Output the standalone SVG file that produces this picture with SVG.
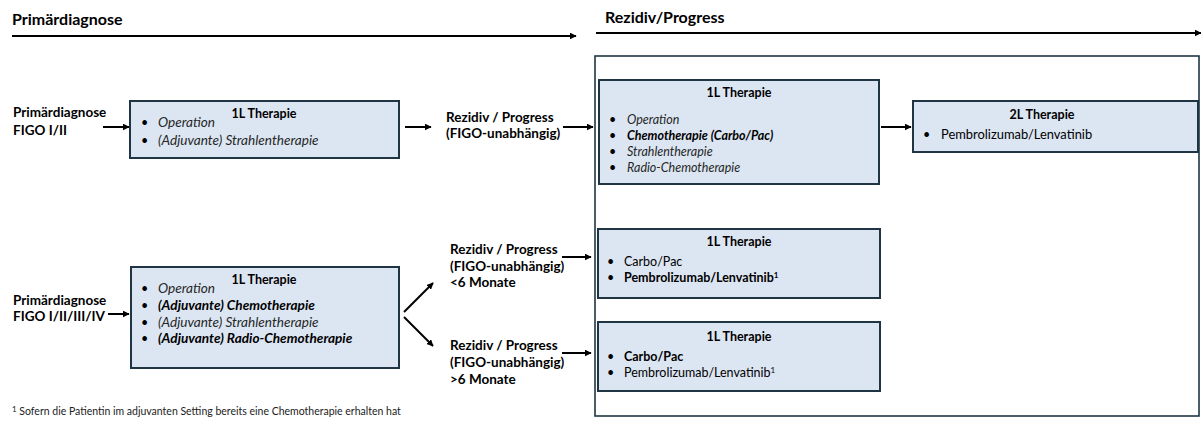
<svg xmlns="http://www.w3.org/2000/svg" width="1201" height="421" viewBox="0 0 1201 421">
<defs>
<marker id="ah" viewBox="0 0 10 10" refX="9" refY="5" markerWidth="7" markerHeight="7" orient="auto" markerUnits="userSpaceOnUse">
<path d="M0,0 L10,5 L0,10 z" fill="#000"/>
</marker>
<style>
text{font-family:Lato,"Open Sans","Liberation Sans",sans-serif;fill:#000}
.h{font-size:16px;font-weight:bold}
.lbl{font-size:13.5px;font-weight:bold}
.t{font-size:12.5px;font-weight:bold;text-anchor:middle}
.b{font-size:12.5px}
.L{font-size:13.6px}
.i{font-style:italic;fill:#262626}
.bi{font-style:italic;font-weight:bold}
.bd{font-weight:bold}
.box{fill:#dce6f3;stroke:#1f3544;stroke-width:2}
.frame{fill:none;stroke:#1f3544;stroke-width:1.6}
.c{stroke:#000;stroke-width:2;fill:none;marker-end:url(#ah)}
.fn{font-size:10.5px;fill:#222}
.sup{font-size:8px}
</style>
</defs>

<g id="headings">
<text class="h" x="12" y="25">Primärdiagnose</text>
<text class="h" x="605" y="23">Rezidiv/Progress</text>
</g>

<rect id="frame" class="frame" x="595" y="56" width="604" height="360"/>

<g id="connectors">
<line class="c" x1="12" y1="36" x2="576" y2="36"/>
<line class="c" x1="596" y1="33" x2="1201" y2="33"/>
<line class="c" x1="103" y1="127" x2="129" y2="127"/>
<line class="c" x1="405" y1="127" x2="431" y2="127"/>
<line class="c" x1="563" y1="127" x2="593" y2="127"/>
<line class="c" x1="881" y1="127" x2="911" y2="127"/>
<line class="c" x1="108" y1="314" x2="129" y2="314"/>
<line class="c" x1="404" y1="312" x2="433" y2="283"/>
<line class="c" x1="404" y1="317" x2="433" y2="346"/>
<line class="c" x1="562" y1="257" x2="591" y2="257"/>
<line class="c" x1="562" y1="353" x2="591" y2="353"/>
</g>

<g id="label-primary1">
<text class="lbl" x="13" y="117">Primärdiagnose</text>
<text class="lbl" x="13" y="135">FIGO I/II</text>
</g>

<g id="box-1L-a">
<rect class="box" x="130" y="101" width="269" height="57"/>
<text class="t" x="264" y="118">1L Therapie</text>
<text class="b" x="141" y="127">•</text><text class="b L i" x="158" y="127">Operation</text>
<text class="b" x="141" y="145">•</text><text class="b L i" x="158" y="145">(Adjuvante) Strahlentherapie</text>
</g>

<g id="label-rezidiv1">
<text class="lbl" x="446" y="122">Rezidiv / Progress</text>
<text class="lbl" x="446" y="138">(FIGO-unabhängig)</text>
</g>

<g id="box-1L-b">
<rect class="box" x="599" y="80" width="280" height="104"/>
<text class="t" x="739" y="97">1L Therapie</text>
<text class="b" x="609" y="124">•</text><text class="b i" x="627" y="124">Operation</text>
<text class="b" x="609" y="140">•</text><text class="b bi" x="627" y="140">Chemotherapie (Carbo/Pac)</text>
<text class="b" x="609" y="156">•</text><text class="b i" x="627" y="156">Strahlentherapie</text>
<text class="b" x="609" y="172">•</text><text class="b i" x="627" y="172">Radio-Chemotherapie</text>
</g>

<g id="box-2L">
<rect class="box" x="913" y="101" width="285" height="51"/>
<text class="t" x="1042" y="119">2L Therapie</text>
<text class="b" x="923" y="139">•</text><text class="b" x="941" y="139" style="font-size:12.9px">Pembrolizumab/Lenvatinib</text>
</g>

<g id="label-primary2">
<text class="lbl" x="13" y="305">Primärdiagnose</text>
<text class="lbl" x="13" y="321">FIGO I/II/III/IV</text>
</g>

<g id="box-1L-d">
<rect class="box" x="131" y="267" width="268" height="101"/>
<text class="t" x="264" y="284">1L Therapie</text>
<text class="b" x="141" y="293">•</text><text class="b L i" x="158" y="293">Operation</text>
<text class="b" x="141" y="310">•</text><text class="b L bi" x="158" y="310">(Adjuvante) Chemotherapie</text>
<text class="b" x="141" y="327">•</text><text class="b L i" x="158" y="327">(Adjuvante) Strahlentherapie</text>
<text class="b" x="141" y="343">•</text><text class="b L bi" x="158" y="343">(Adjuvante) Radio-Chemotherapie</text>
</g>

<g id="label-rezidiv-lt6">
<text class="lbl" x="450" y="254">Rezidiv / Progress</text>
<text class="lbl" x="450" y="271">(FIGO-unabhängig)</text>
<text class="lbl" x="450" y="287">&lt;6 Monate</text>
</g>

<g id="label-rezidiv-gt6">
<text class="lbl" x="450" y="350">Rezidiv / Progress</text>
<text class="lbl" x="450" y="367">(FIGO-unabhängig)</text>
<text class="lbl" x="450" y="384">&gt;6 Monate</text>
</g>

<g id="box-1L-e">
<rect class="box" x="598" y="229" width="282" height="69"/>
<text class="t" x="739" y="246">1L Therapie</text>
<text class="b" x="607" y="266">•</text><text class="b" x="624" y="266">Carbo/Pac</text>
<text class="b" x="607" y="282">•</text><text class="b bd" x="624" y="282">Pembrolizumab/Lenvatinib<tspan class="sup" dy="-4">1</tspan></text>
</g>

<g id="box-1L-f">
<rect class="box" x="598" y="322" width="282" height="69"/>
<text class="t" x="739" y="341">1L Therapie</text>
<text class="b" x="607" y="361">•</text><text class="b bd" x="624" y="361">Carbo/Pac</text>
<text class="b" x="607" y="377">•</text><text class="b" x="624" y="377">Pembrolizumab/Lenvatinib<tspan class="sup" dy="-4">1</tspan></text>
</g>

<g id="footnote">
<text class="fn" x="12" y="415"><tspan class="sup" dy="-3">1</tspan><tspan dy="3">  Sofern die Patientin im adjuvanten Setting bereits eine Chemotherapie erhalten hat</tspan></text>
</g>
</svg>
